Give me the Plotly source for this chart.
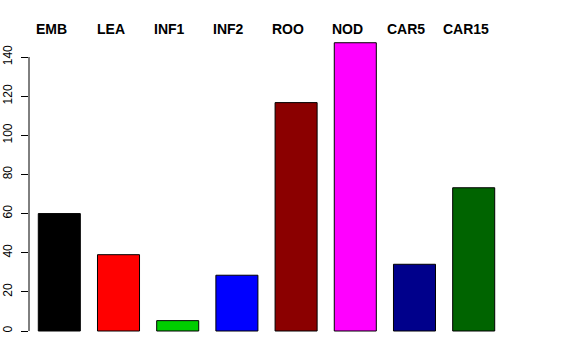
import plotly.graph_objects as go

categories = ["EMB", "LEA", "INF1", "INF2", "ROO", "NOD", "CAR5", "CAR15"]
values = [60, 39, 5.3, 28.5, 116.7, 147.3, 34.1, 73.2]
colors = ["#000000", "#FF0000", "#00CD00", "#0000FF", "#8B0000", "#FF00FF", "#00008B", "#006400"]
y_ticks = [0, 20, 40, 60, 80, 100, 120, 140]

fig = go.Figure()
fig.add_trace(go.Bar(
    x=list(range(len(categories))),
    y=values,
    marker=dict(color=colors, line=dict(color="#000000", width=1)),
    width=0.71,
    hoverinfo="skip",
))

for i, c in enumerate(categories):
    fig.add_annotation(
        x=i, y=1 + 2.2 / 311, xref="x", yref="paper",
        text="<b>" + c + "</b>", showarrow=False,
        xanchor="center", yanchor="middle", xshift=-8,
        font=dict(family="Liberation Sans, Arial, sans-serif", size=14, color="#000000"),
    )

fig.add_shape(type="line", xref="paper", yref="y", x0=0, x1=0,
              y0=y_ticks[0], y1=y_ticks[-1], line=dict(color="#000000", width=1))

fig.update_layout(
    width=576, height=360,
    margin=dict(l=29, r=72, t=31, b=18, pad=0, autoexpand=False),
    paper_bgcolor="white", plot_bgcolor="white",
    showlegend=False,
    font=dict(family="Liberation Sans, Arial, sans-serif", size=12, color="#000000"),
    xaxis=dict(range=[-0.512, 7.512], visible=False, fixedrange=True, automargin=False),
    yaxis=dict(
        range=[-5.62, 153.3], tickvals=y_ticks, ticktext=[str(v) for v in y_ticks],
        ticks="outside", ticklen=7, tickcolor="#000000", tickwidth=1,
        tickangle=-90, showgrid=False, zeroline=False, showline=False,
        tickfont=dict(size=12, color="#000000"), automargin=False,
        ticklabelstandoff=4, fixedrange=True,
    ),
)

fig.write_html(
    "out.html",
    config={"displayModeBar": False, "staticPlot": True},
    post_script="document.body.style.margin='0px';document.body.style.padding='0px';",
)
